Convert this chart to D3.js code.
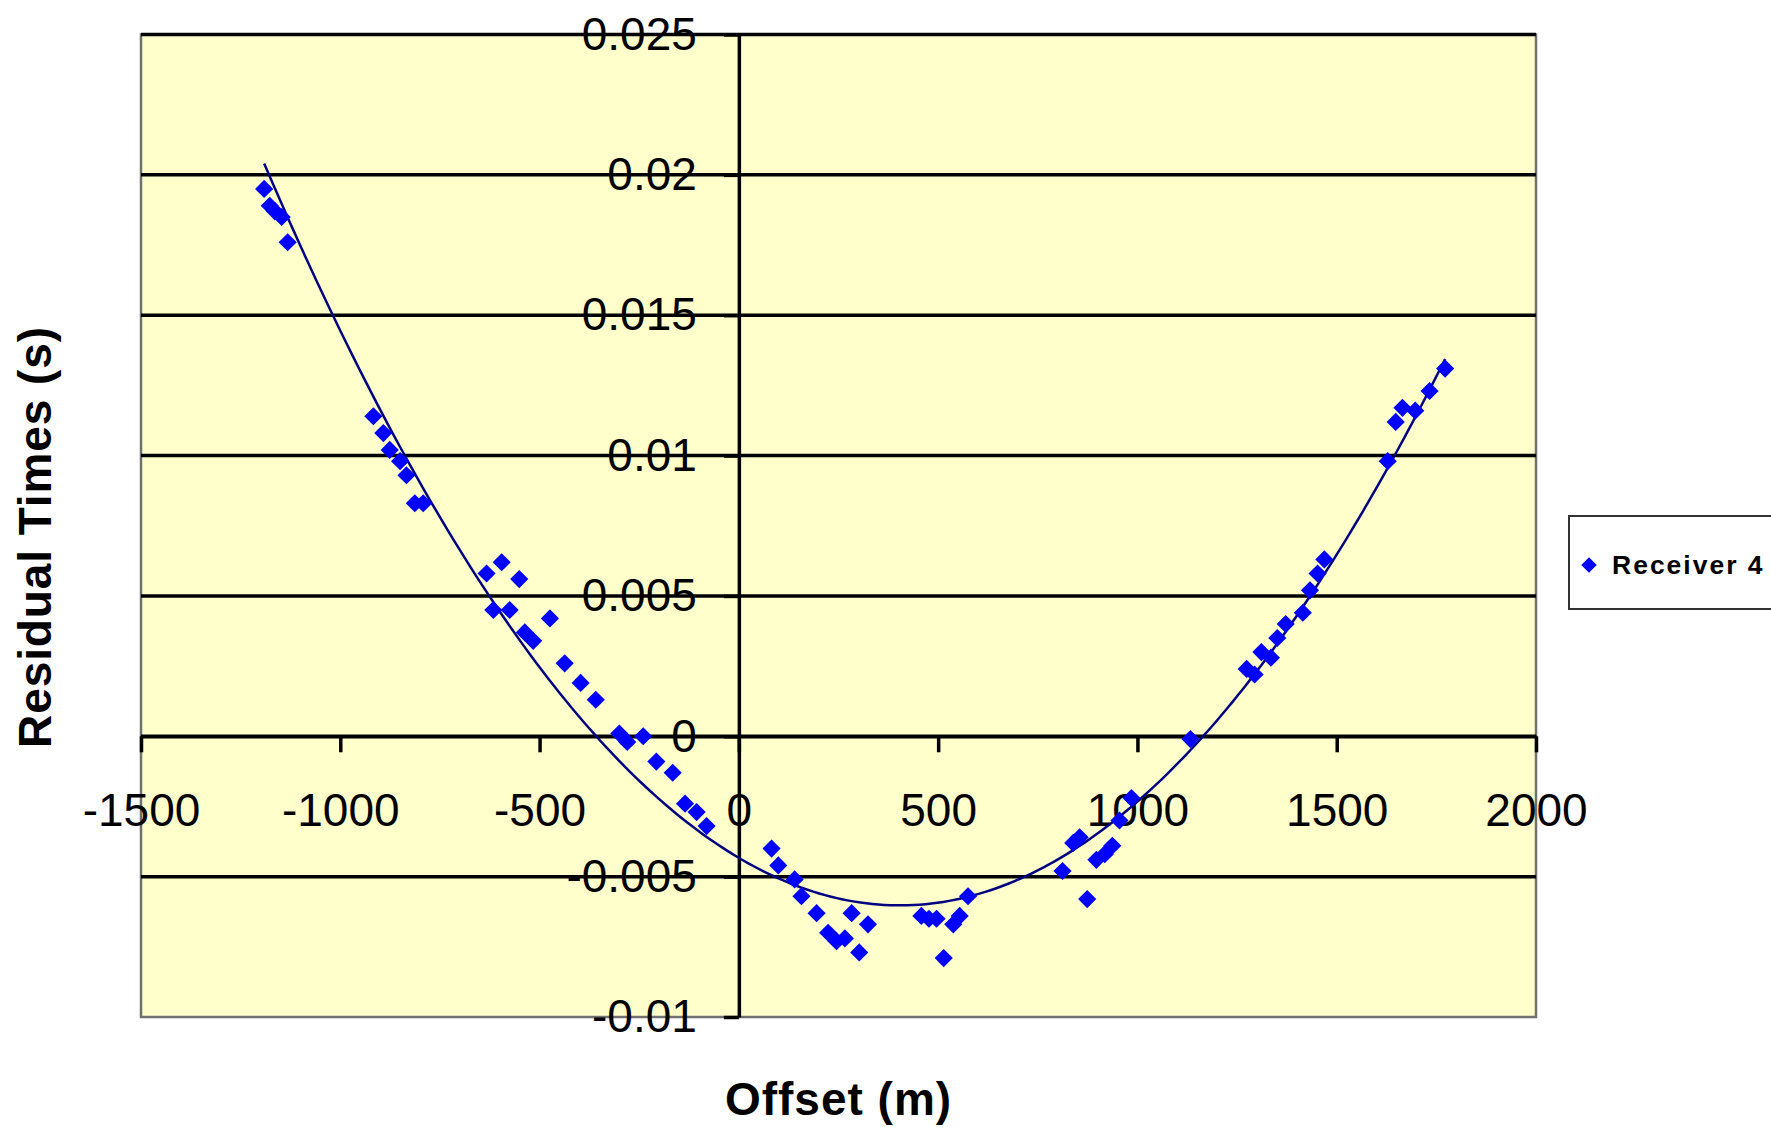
<!DOCTYPE html>
<html>
<head>
<meta charset="utf-8">
<script src="https://cdn.jsdelivr.net/npm/d3@7"></script>
<style>
  body { margin: 0; background: #fff; }
  svg { display: block; font-family: "Liberation Sans", Arial, sans-serif; }
</style>
</head>
<body>
<svg id="chart" width="1771" height="1127"></svg>
<script>
// Offset (m) and residual time (s)
const offsets = [
  -1191, -1177, -1164, -1147, -1132,
  -917, -892, -876, -850, -834, -813, -792,
  -633, -616, -595, -575, -551, -537, -516, -474, -437, -397, -359,
  -300, -280, -240, -207, -166, -135, -106, -81,
  82, 99, 140, 157, 195, 224, 245, 266, 283, 302, 324,
  458, 477, 496, 514, 538, 554, 575,
  812, 839, 855, 874, 897, 918, 937, 955, 985,
  1133, 1274, 1294, 1311, 1335, 1351, 1372, 1415, 1433, 1452, 1469,
  1628, 1648, 1665, 1697, 1733, 1772
];
const residuals = [
  0.0195, 0.0189, 0.0187, 0.0185, 0.0176,
  0.0114, 0.0108, 0.0102, 0.0098, 0.0093, 0.0083, 0.0083,
  0.0058, 0.0045, 0.0062, 0.0045, 0.0056, 0.0037, 0.0034, 0.0042, 0.0026, 0.0019, 0.0013,
  0.0001, -0.0002, 0.0000, -0.0009, -0.0013, -0.0024, -0.0027, -0.0032,
  -0.0040, -0.0046, -0.0051, -0.0057, -0.0063, -0.0070, -0.0073, -0.0072, -0.0063, -0.0077, -0.0067,
  -0.0064, -0.0065, -0.0065, -0.0079, -0.0067, -0.0064, -0.0057,
  -0.0048, -0.0038, -0.0036, -0.0058, -0.0044, -0.0042, -0.0039, -0.0030, -0.0022,
  -0.0001, 0.0024, 0.0022, 0.0030, 0.0028, 0.0035, 0.0040, 0.0044, 0.0052, 0.0058, 0.0063,
  0.0098, 0.0112, 0.0117, 0.0116, 0.0123, 0.0131
];
const seriesName = "Receiver 4";
const xTicks = [-1500, -1000, -500, 0, 500, 1000, 1500, 2000];
const yTicks = [-0.01, -0.005, 0, 0.005, 0.01, 0.015, 0.02, 0.025];

const points = offsets.map((o, i) => ({x: o, y: residuals[i]}));

const svg = d3.select("#chart");
const plot = {left: 141, right: 1536, top: 34.5, bottom: 1017};

const x = d3.scaleLinear().domain([-1500, 2000]).range([plot.left, plot.right]);
const y = d3.scaleLinear().domain([-0.01, 0.025]).range([plot.bottom, plot.top]);

// plot background
svg.append("rect")
  .attr("x", plot.left).attr("y", plot.top)
  .attr("width", plot.right - plot.left).attr("height", plot.bottom - plot.top)
  .attr("fill", "#FFFFCC")
  .attr("stroke", "#707070").attr("stroke-width", 2.5);

// horizontal gridlines
svg.append("g")
  .selectAll("line")
  .data(yTicks.filter(d => d !== -0.01))
  .join("line")
  .attr("x1", plot.left).attr("x2", plot.right)
  .attr("y1", d => y(d)).attr("y2", d => y(d))
  .attr("stroke", "#000").attr("stroke-width", 3.5);

const fmt = d => String(+d.toFixed(3));

// y axis crosses at offset 0
const yAxis = svg.append("g")
  .attr("transform", `translate(${x(0)},0)`)
  .call(d3.axisLeft(y).tickValues(yTicks).tickFormat(fmt)
    .tickSizeInner(15).tickSizeOuter(0).tickPadding(27));

// x axis crosses at residual 0
const xAxis = svg.append("g")
  .attr("transform", `translate(0,${y(0)})`)
  .call(d3.axisBottom(x).tickValues(xTicks).tickFormat(fmt)
    .tickSizeInner(16).tickSizeOuter(0).tickPadding(41));

[xAxis, yAxis].forEach(a => {
  a.select(".domain").attr("stroke", "#000").attr("stroke-width", 3.5);
  a.selectAll(".tick line").attr("stroke", "#000").attr("stroke-width", 3.5);
  a.selectAll(".tick text")
    .attr("fill", "#000")
    .style("font-size", "46px")
    .style("font-family", "'Liberation Sans', Arial, sans-serif");
});

// 2nd order polynomial trendline (least squares)
function polyfit(xs, ys, order) {
  const n = order + 1;
  const A = Array.from({length: n}, () => new Array(n + 1).fill(0));
  xs.forEach((xv, k) => {
    for (let i = 0; i < n; i++) {
      for (let j = 0; j < n; j++) A[i][j] += Math.pow(xv, i + j);
      A[i][n] += ys[k] * Math.pow(xv, i);
    }
  });
  for (let c = 0; c < n; c++) {
    let p = c;
    for (let r = c + 1; r < n; r++) if (Math.abs(A[r][c]) > Math.abs(A[p][c])) p = r;
    [A[c], A[p]] = [A[p], A[c]];
    for (let r = 0; r < n; r++) {
      if (r === c) continue;
      const f = A[r][c] / A[c][c];
      for (let j = c; j <= n; j++) A[r][j] -= f * A[c][j];
    }
  }
  return A.map((row, i) => row[n] / row[i]);
}
const coef = polyfit(offsets, residuals, 2);
const evalPoly = v => coef.reduce((s, c, i) => s + c * Math.pow(v, i), 0);
const [xmin, xmax] = d3.extent(offsets);
const trend = d3.range(0, 201).map(i => {
  const v = xmin + (xmax - xmin) * i / 200;
  return {x: v, y: evalPoly(v)};
});

svg.append("path")
  .datum(trend)
  .attr("fill", "none")
  .attr("stroke", "#000080")
  .attr("stroke-width", 2.5)
  .attr("d", d3.line().x(d => x(d.x)).y(d => y(d.y)));

// markers
const diamond = d3.symbol().type(d3.symbolSquare).size(165);
svg.append("g")
  .selectAll("path")
  .data(points)
  .join("path")
  .attr("d", diamond)
  .attr("transform", d => `translate(${x(d.x)},${y(d.y)}) rotate(45)`)
  .attr("fill", "#0000FF");

// axis titles
svg.append("text")
  .attr("x", (plot.left + plot.right) / 2)
  .attr("y", 1115)
  .attr("text-anchor", "middle")
  .style("font-size", "46px").style("font-weight", "bold")
  .style("letter-spacing", "1px")
  .text("Offset (m)");

svg.append("text")
  .attr("transform", "translate(51,537) rotate(-90)")
  .attr("text-anchor", "middle")
  .style("font-size", "46px").style("font-weight", "bold")
  .style("letter-spacing", "0.9px")
  .text("Residual Times (s)");

// legend
const legend = svg.append("g").attr("transform", "translate(1569,516)");
legend.append("rect")
  .attr("width", 240).attr("height", 93)
  .attr("fill", "#fff").attr("stroke", "#333").attr("stroke-width", 2);
legend.append("path")
  .attr("d", d3.symbol().type(d3.symbolSquare).size(120))
  .attr("transform", "translate(20,49) rotate(45)")
  .attr("fill", "#0000FF");
legend.append("text")
  .attr("x", 43).attr("y", 58)
  .style("font-size", "26.5px").style("font-weight", "bold")
  .style("letter-spacing", "2px")
  .text(seriesName);
</script>
</body>
</html>
